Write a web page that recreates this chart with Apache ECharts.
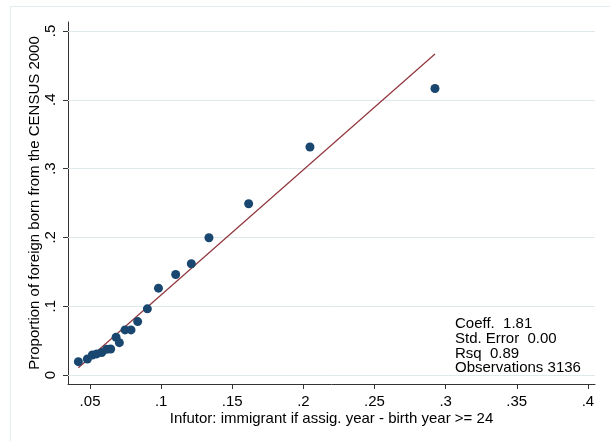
<!DOCTYPE html>
<html>
<head>
<meta charset="utf-8">
<script src="https://cdn.jsdelivr.net/npm/echarts@6/dist/echarts.min.js"></script>
<style>html,body{margin:0;padding:0;background:#fff}#c{width:610px;height:441px}</style>
</head>
<body>
<div id="c"></div>
<script>
// Data
var pointsX = [0.0418, 0.0481, 0.0516, 0.0547, 0.0582, 0.0617, 0.0645, 0.0683, 0.0706, 0.0746, 0.0788, 0.0835, 0.0903, 0.0981, 0.1102, 0.1212, 0.1336, 0.1615, 0.2046, 0.2925];
var pointsY = [0.0194, 0.0233, 0.0291, 0.0306, 0.0325, 0.0374, 0.0378, 0.0549, 0.0470, 0.0655, 0.0655, 0.0776, 0.0961, 0.1262, 0.1460, 0.1616, 0.1994, 0.2489, 0.3314, 0.4163];
var fitX = [0.0418, 0.2925];
var fitY = [0.0106, 0.4664];
var xTicks = [0.05, 0.1, 0.15, 0.2, 0.25, 0.3, 0.35, 0.4];
var yTicks = [0, 0.1, 0.2, 0.3, 0.4, 0.5];
var statLines = ['Coeff.  1.81', 'Std. Error  0.00', 'Rsq  0.89', 'Observations 3136'];
var xTitle = 'Infutor: immigrant if assig. year - birth year >= 24';
var yTitle = 'Proportion of foreign born from the CENSUS 2000';

function fmt(v) {
  if (v === 0) return '0';
  return String(+v.toFixed(3)).replace(/^0/, '');
}

var chart = echarts.init(document.getElementById('c'), null, {renderer: 'canvas'});
var FONT = '"Liberation Sans", Arial, sans-serif';

var scatterData = pointsX.map(function (x, i) { return [x, pointsY[i]]; });
var fitData = fitX.map(function (x, i) { return [x, fitY[i]]; });

var graphics = [{
  type: 'rect',
  shape: {x: 10.5, y: 6.5, width: 640, height: 480},
  style: {fill: 'none', stroke: '#e3ecee', lineWidth: 1},
  silent: true, z: -10
}];
statLines.forEach(function (t, i) {
  graphics.push({
    type: 'text',
    x: 455, y: 324 + i * 14.7,
    style: {text: t, fill: '#000', font: '15px ' + FONT, verticalAlign: 'middle', align: 'left'}
  });
});

chart.setOption({
  animation: false,
  backgroundColor: '#fff',
  grid: {left: 68, right: 15, top: 22, bottom: 57, containLabel: false},
  xAxis: {
    type: 'value', min: 0.0345, max: 0.405,
    name: xTitle, nameLocation: 'middle', nameGap: 27, nameMoveOverlap: false,
    nameTextStyle: {color: '#000', fontSize: 15, fontFamily: FONT},
    axisLine: {show: true, onZero: false, lineStyle: {color: '#333', width: 1}},
    axisTick: {show: true, length: 5, lineStyle: {color: '#333'}, customValues: xTicks},
    axisLabel: {color: '#000', fontSize: 15, fontFamily: FONT, margin: 10, customValues: xTicks, formatter: fmt},
    splitLine: {show: false}
  },
  yAxis: {
    type: 'value', min: -0.0131, max: 0.513,
    name: yTitle, nameLocation: 'middle', nameGap: 26, nameMoveOverlap: false,
    nameTextStyle: {color: '#000', fontSize: 15, fontFamily: FONT},
    axisLine: {show: true, onZero: false, lineStyle: {color: '#333', width: 1}},
    axisTick: {show: true, length: 5, lineStyle: {color: '#333'}, customValues: yTicks},
    axisLabel: {color: '#000', fontSize: 15, fontFamily: FONT, margin: 10, rotate: 90, customValues: yTicks, formatter: fmt},
    splitLine: {show: false}
  },
  graphic: graphics,
  series: [
    {
      type: 'line', data: fitData, showSymbol: false, symbol: 'none',
      lineStyle: {color: '#90353b', width: 1.2}, z: 3,
      markLine: {
        silent: true, symbol: 'none', label: {show: false}, z: 1,
        lineStyle: {color: '#dfe8ea', type: 'solid', width: 1},
        data: yTicks.map(function (v) { return {yAxis: v}; })
      }
    },
    {
      type: 'scatter', data: scatterData, symbol: 'circle', symbolSize: 9,
      itemStyle: {color: '#1a476f', opacity: 1}, z: 4
    }
  ]
});
</script>
</body>
</html>
